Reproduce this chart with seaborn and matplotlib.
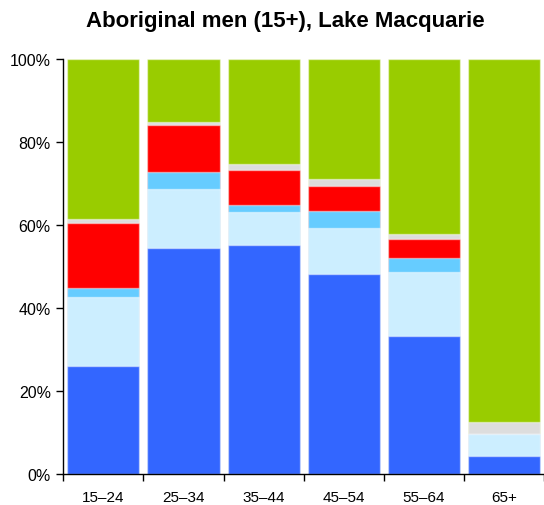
import numpy as np
import pandas as pd
import matplotlib
matplotlib.use("Agg")
import matplotlib.pyplot as plt
import seaborn as sns
from matplotlib.ticker import FixedLocator, PercentFormatter

# age groups and the share (%) in each segment, bottom to top
ages = ["15–24", "25–34", "35–44", "45–54", "55–64", "65+"]
seg_blue = [26.2, 54.6, 55.2, 48.2, 33.4, 4.4]
seg_lightblue = [16.5, 14.1, 8.1, 11.1, 15.3, 5.4]
seg_midblue = [2.2, 4.1, 1.6, 4.1, 3.4, 0.0]
seg_red = [15.7, 11.3, 8.4, 6.1, 4.7, 0.0]
seg_grey = [0.9, 0.8, 1.4, 1.6, 1.1, 2.7]
seg_green = [38.5, 15.1, 25.3, 28.9, 42.1, 87.5]

segments = [seg_blue, seg_lightblue, seg_midblue, seg_red, seg_grey, seg_green]
colors = ["#3366FF", "#CCEEFF", "#66CCFF", "#FF0000", "#DDDDDD", "#99CC00"]

sns.set_style("white")
plt.rcParams["font.family"] = ["Liberation Sans", "DejaVu Sans"]
plt.rcParams["text.color"] = "black"
plt.rcParams["xtick.color"] = "black"
plt.rcParams["ytick.color"] = "black"

df = pd.DataFrame({"age": ages})
cum = np.cumsum(np.array(segments), axis=0)
cum = cum / cum[-1] * 100  # each bar sums to 100%

fig = plt.figure(figsize=(5.44, 5.06), dpi=100)
ax = fig.add_axes([0.1164, 0.0607, 0.8836, 0.8202])

# draw from the top layer down so each lower layer covers the one above
for i in range(len(segments) - 1, -1, -1):
    df["top"] = cum[i]
    sns.barplot(data=df, x="age", y="top", color=colors[i], width=0.9,
                saturation=1, edgecolor=(1, 1, 1, 0.45), linewidth=1, ax=ax)

ax.set_xlim(-0.5, 5.5)
ax.set_ylim(0, 100)
ax.set_xlabel("")
ax.set_ylabel("")
ax.yaxis.set_major_locator(FixedLocator([0, 20, 40, 60, 80, 100]))
ax.yaxis.set_major_formatter(PercentFormatter(decimals=0))
ax.xaxis.set_minor_locator(FixedLocator(np.arange(-0.5, 5.6, 1)))
ax.tick_params(axis="x", which="major", length=0, labelsize=11, pad=11)
ax.tick_params(axis="x", which="minor", length=5, width=1, color="black", direction="out")
ax.tick_params(axis="y", length=5, width=1, color="black", direction="out", labelsize=11.5, pad=4)
ax.tick_params(left=True, which="major", axis="y")
ax.tick_params(bottom=True, which="minor", axis="x")

for s in ["top", "right"]:
    ax.spines[s].set_visible(False)
for s in ["left", "bottom"]:
    ax.spines[s].set_color("black")
    ax.spines[s].set_linewidth(1)

fig.text(0.525, 0.958, "Aboriginal men (15+), Lake Macquarie",
         ha="center", va="center", fontsize=16, fontweight="bold")

fig.savefig("out.png", dpi=100)
